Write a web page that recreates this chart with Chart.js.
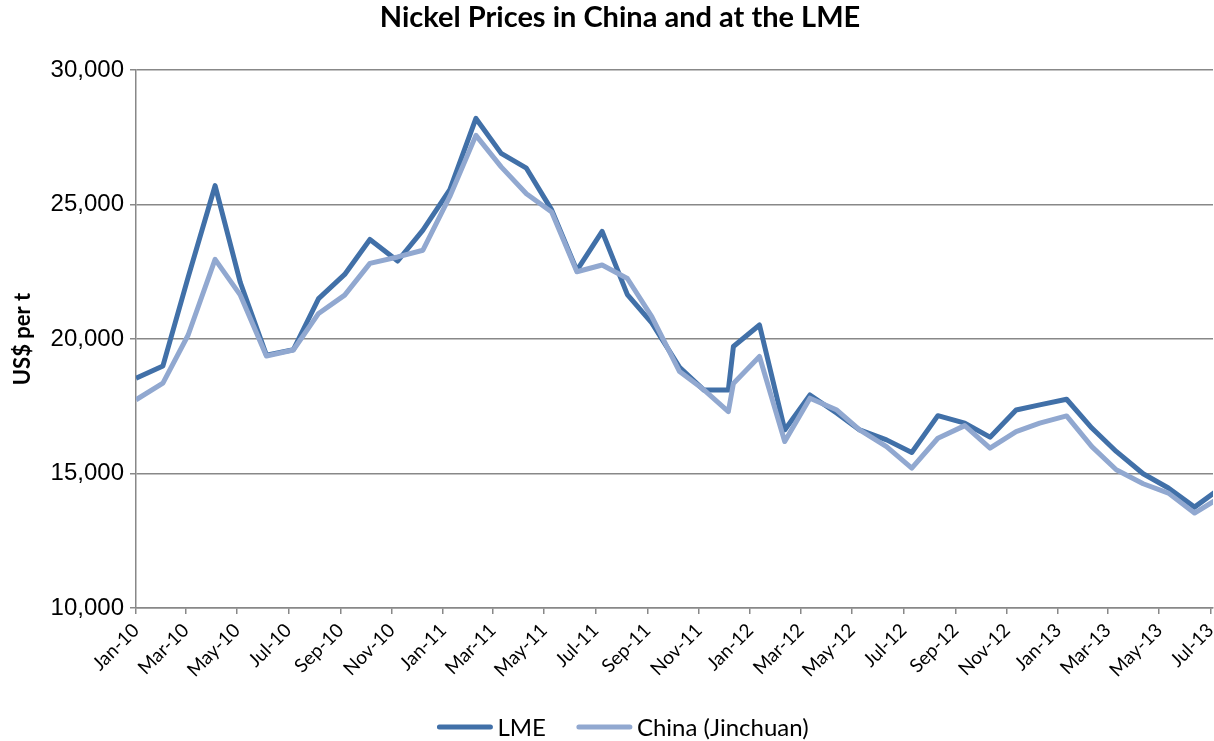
<!DOCTYPE html>
<html>
<head>
<meta charset="utf-8">
<script src="https://cdn.jsdelivr.net/npm/chart.js@4"></script>
<style>
  html, body { margin: 0; padding: 0; background: #fff; }
  #wrap { width: 1214px; height: 741px; }
</style>
</head>
<body>
<div id="wrap"><canvas id="nickelChart"></canvas></div>
<script>
const chartTitle = 'Nickel Prices in China and at the LME';
const yTitle = 'US$ per t';

// observation dates (monthly averages, as plotted on the date axis)
const dates = [
  '2010-01-01', '2010-02-02', '2010-03-04', '2010-04-05', '2010-05-05', '2010-06-05',
  '2010-07-07', '2010-08-06', '2010-09-06', '2010-10-06', '2010-11-08', '2010-12-08',
  '2011-01-09', '2011-02-09', '2011-03-11', '2011-04-10', '2011-05-10', '2011-06-09',
  '2011-07-09', '2011-08-08', '2011-09-06', '2011-10-09', '2011-11-07', '2011-12-06',
  '2011-12-12', '2012-01-12', '2012-02-11', '2012-03-12', '2012-04-13', '2012-05-10',
  '2012-06-11', '2012-07-11', '2012-08-11', '2012-09-12', '2012-10-12', '2012-11-12',
  '2012-12-10', '2013-01-11', '2013-02-10', '2013-03-11', '2013-04-12', '2013-05-12',
  '2013-06-12', '2013-07-12'
];

const lmePrices = [
  18540, 19000, 22300, 25700, 22100, 19400, 19600, 21500, 22400, 23700, 22900, 24050,
  25550, 28200, 26900, 26350, 24800, 22550, 24000, 21650, 20600, 18950, 18100, 18100,
  19720, 20520, 16620, 17920, 17240, 16620, 16250, 15780, 17150, 16870, 16350, 17360,
  17550, 17760, 16690, 15820, 14990, 14460, 13750, 14430
];

const chinaPrices = [
  17740, 18360, 20150, 22960, 21630, 19370, 19590, 20950, 21630, 22810, 23050, 23300,
  25300, 27570, 26400, 25400, 24720, 22500, 22750, 22250, 20830, 18790, 18110, 17300,
  18350, 19350, 16190, 17800, 17360, 16620, 16000, 15200, 16310, 16780, 15940, 16560,
  16870, 17140, 16000, 15140, 14620, 14270, 13530, 14100
];

const tickLabels = [
  'Jan-10', 'Mar-10', 'May-10', 'Jul-10', 'Sep-10', 'Nov-10',
  'Jan-11', 'Mar-11', 'May-11', 'Jul-11', 'Sep-11', 'Nov-11',
  'Jan-12', 'Mar-12', 'May-12', 'Jul-12', 'Sep-12', 'Nov-12',
  'Jan-13', 'Mar-13', 'May-13', 'Jul-13'
];

const yTicks = [10000, 15000, 20000, 25000, 30000];

const monthNames = ['Jan', 'Feb', 'Mar', 'Apr', 'May', 'Jun', 'Jul', 'Aug', 'Sep', 'Oct', 'Nov', 'Dec'];
const DAY = 86400000;
const startMs = Date.UTC(2010, 0, 1);
const toDay = s => (Date.parse(s) - startMs) / DAY;
const labelToDay = lbl => {
  const [m, y] = lbl.split('-');
  return (Date.UTC(2000 + Number(y), monthNames.indexOf(m), 1) - startMs) / DAY;
};

const tickDays = tickLabels.map(labelToDay);
const labelByDay = {};
tickLabels.forEach((lbl, i) => { labelByDay[tickDays[i]] = lbl; });
const xMax = tickDays[tickDays.length - 1] + 3;

const lmeColor = '#4170A8';
const chinaColor = '#91A8D0';
const axisGrey = '#888888';

const titleLegendPlugin = {
  id: 'titleLegend',
  afterDraw(chart) {
    const ctx = chart.ctx;
    ctx.save();
    ctx.fillStyle = '#000';
    ctx.textBaseline = 'middle';
    ctx.textAlign = 'center';
    ctx.font = 'bold 29px Lato';
    ctx.fillText(chartTitle, 620, 18);

    // legend along the bottom
    ctx.font = '24px Lato';
    ctx.textAlign = 'left';
    const sample = 55, gap = 5, between = 31;
    const items = chart.data.datasets.map(ds => ({
      ds: ds,
      w: sample + gap + ctx.measureText(ds.label).width
    }));
    const total = items.reduce((a, it) => a + it.w, 0) + between * (items.length - 1);
    let x = 623 - total / 2;
    const y = 727;
    items.forEach(it => {
      ctx.strokeStyle = it.ds.borderColor;
      ctx.lineWidth = 5;
      ctx.lineCap = 'round';
      ctx.beginPath();
      ctx.moveTo(x + 2, y);
      ctx.lineTo(x + sample - 2, y);
      ctx.stroke();
      ctx.fillText(it.ds.label, x + sample + gap, y + 1);
      x += it.w + between;
    });
    ctx.restore();
  }
};

new Chart(document.getElementById('nickelChart'), {
  type: 'line',
  data: {
    datasets: [
      {
        label: 'LME',
        data: dates.map((d, i) => ({x: toDay(d), y: lmePrices[i]})),
        borderColor: lmeColor,
        backgroundColor: lmeColor,
        borderWidth: 5,
        pointRadius: 0,
        tension: 0,
        borderJoinStyle: 'round',
        clip: 0,
        order: 1
      },
      {
        label: 'China (Jinchuan)',
        data: dates.map((d, i) => ({x: toDay(d), y: chinaPrices[i]})),
        borderColor: chinaColor,
        backgroundColor: chinaColor,
        borderWidth: 5,
        pointRadius: 0,
        tension: 0,
        borderJoinStyle: 'round',
        clip: 0,
        order: 0
      }
    ]
  },
  options: {
    responsive: true,
    maintainAspectRatio: false,
    animation: false,
    layout: {padding: {left: 0, right: 1, top: 70, bottom: 53}},
    plugins: {
      legend: {display: false},
      title: {display: false},
      tooltip: {enabled: false}
    },
    scales: {
      x: {
        type: 'linear',
        min: 0,
        max: xMax,
        afterBuildTicks: scale => { scale.ticks = tickDays.map(v => ({value: v})); },
        afterFit: scale => {
          scale.height = 80;
          scale.paddingLeft = 0;
          scale.paddingRight = 0;
        },
        ticks: {
          autoSkip: false,
          minRotation: 45,
          maxRotation: 45,
          padding: 5,
          color: '#000',
          font: {family: 'Lato', size: 19},
          callback: v => labelByDay[v]
        },
        grid: {drawOnChartArea: false, drawTicks: true, tickLength: 6, color: axisGrey, lineWidth: 1.5},
        border: {color: axisGrey, width: 1.5}
      },
      y: {
        min: 10000,
        max: 30000,
        afterBuildTicks: scale => { scale.ticks = yTicks.map(v => ({value: v})); },
        afterFit: scale => { scale.width = 136; },
        ticks: {
          padding: 6,
          color: '#000',
          font: {family: 'Liberation Sans', size: 24},
          callback: v => v.toLocaleString('en-US')
        },
        grid: {color: axisGrey, lineWidth: 1.5, tickLength: 6},
        border: {color: axisGrey, width: 1.5},
        title: {
          display: true,
          text: yTitle,
          color: '#000',
          font: {family: 'Lato', size: 22, weight: 'bold'},
          padding: {top: 10, bottom: 0}
        }
      }
    }
  },
  plugins: [titleLegendPlugin]
});
</script>
</body>
</html>
